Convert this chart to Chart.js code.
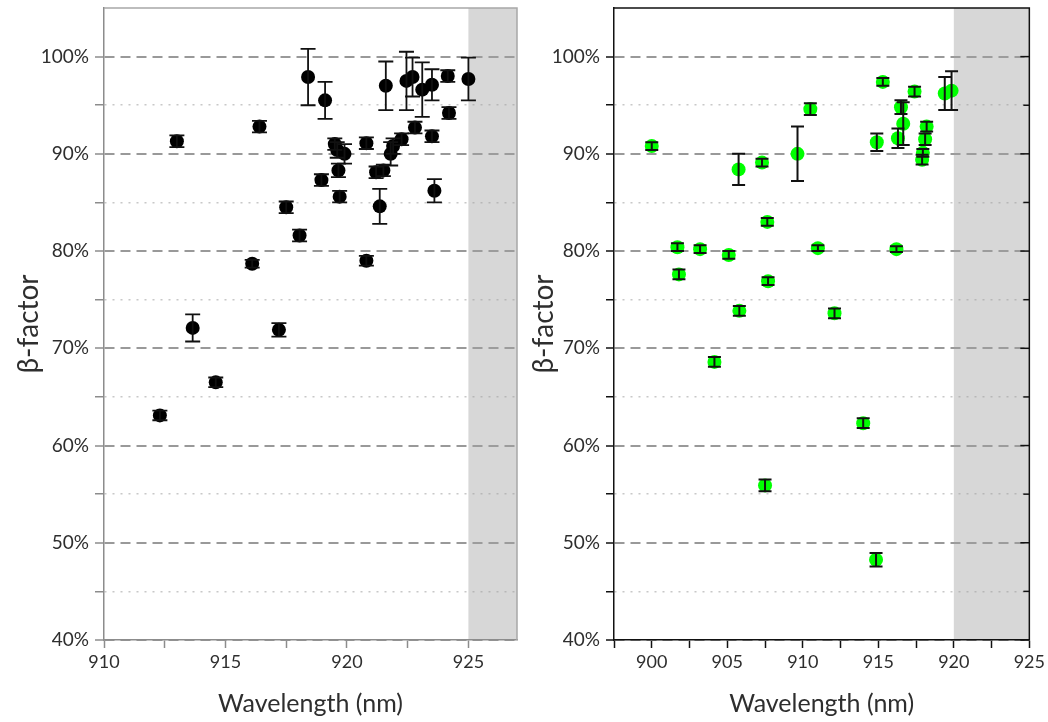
<!DOCTYPE html>
<html>
<head>
<meta charset="utf-8">
<script src="https://cdn.jsdelivr.net/npm/chart.js@4/dist/chart.umd.min.js"></script>
<style>
  html, body { margin: 0; padding: 0; background: #fff; }
  #wrap { position: relative; width: 1048px; height: 722px; }
  .box { position: absolute; top: 0; width: 524px; height: 722px; }
</style>
</head>
<body>
<div id="wrap">
  <div class="box" style="left:0"><canvas id="left" width="524" height="722"></canvas></div>
  <div class="box" style="left:524px"><canvas id="right" width="524" height="722"></canvas></div>
</div>
<script>
// left panel
const leftWavelength = [912.3, 913.0, 913.65, 914.6, 916.1, 916.4, 917.2, 917.5, 918.05, 918.4,
  918.95, 919.1, 919.5, 919.6, 919.65, 919.7, 919.9, 920.8, 920.8, 921.2,
  921.35, 921.5, 921.6, 921.8, 921.9, 922.25, 922.45, 922.7, 922.8, 923.1,
  923.5, 923.5, 923.6, 924.15, 924.2, 925.0];
const leftBeta = [63.1, 91.3, 72.1, 66.5, 78.7, 92.8, 71.9, 84.5, 81.6, 97.9,
  87.3, 95.5, 91.0, 90.4, 88.3, 85.6, 90.0, 91.1, 79.0, 88.1,
  84.6, 88.3, 97.0, 90.0, 90.8, 91.5, 97.5, 97.9, 92.7, 96.6,
  97.1, 91.8, 86.2, 98.0, 94.2, 97.7];
const leftErr = [0.5, 0.6, 1.4, 0.5, 0.4, 0.6, 0.7, 0.6, 0.6, 2.9,
  0.6, 1.9, 0.6, 0.8, 0.7, 0.6, 1.0, 0.6, 0.5, 0.6,
  1.8, 0.6, 2.5, 1.2, 0.8, 0.6, 3.0, 2.0, 0.6, 2.8,
  1.6, 0.6, 1.2, 0.6, 0.6, 2.2];

// right panel
const rightWavelength = [900.0, 901.7, 901.8, 903.2, 904.15, 905.1, 905.75, 905.8, 907.3, 907.5,
  907.65, 907.7, 909.65, 910.5, 911.0, 912.1, 914.0, 914.85, 914.9, 915.3,
  916.2, 916.3, 916.5, 916.65, 917.4, 917.9, 917.95, 918.1, 918.2, 919.4, 919.85];
const rightBeta = [90.8, 80.4, 77.6, 80.2, 68.6, 79.6, 88.4, 73.85, 89.1, 55.9,
  83.0, 76.9, 90.0, 94.6, 80.3, 73.6, 62.3, 48.25, 91.2, 97.4,
  80.2, 91.6, 94.8, 93.1, 96.4, 89.4, 90.1, 91.5, 92.8, 96.2, 96.5];
const rightErr = [0.4, 0.4, 0.5, 0.4, 0.5, 0.4, 1.6, 0.5, 0.4, 0.6,
  0.4, 0.4, 2.8, 0.6, 0.3, 0.5, 0.5, 0.7, 0.9, 0.4,
  0.3, 1.0, 0.7, 2.2, 0.5, 0.5, 0.4, 0.6, 0.5, 1.7, 2.0];

const yTicks = [40, 50, 60, 70, 80, 90, 100];
const leftXTicks = [910, 915, 920, 925];
const rightXTicks = [900, 905, 910, 915, 920, 925];

const FONT = "Lato, 'Open Sans', sans-serif";

const errorBars = {
  id: 'errorBars',
  afterDatasetsDraw(chart) {
    const { ctx, scales: { x, y } } = chart;
    chart.data.datasets.forEach(ds => {
      const cap = ds.capHalf;
      ctx.save();
      ctx.strokeStyle = '#111';
      ctx.lineWidth = ds.errWidth;
      ds.data.forEach((p, i) => {
        const px = x.getPixelForValue(p.x);
        const top = y.getPixelForValue(p.y + ds.yErr[i]);
        const bot = y.getPixelForValue(p.y - ds.yErr[i]);
        ctx.beginPath();
        ctx.moveTo(px, top); ctx.lineTo(px, bot);
        ctx.moveTo(px - cap, top); ctx.lineTo(px + cap, top);
        ctx.moveTo(px - cap, bot); ctx.lineTo(px + cap, bot);
        ctx.stroke();
      });
      ctx.restore();
    });
  }
};

const panelDecor = {
  id: 'panelDecor',
  beforeDatasetsDraw(chart, args, opts) {
    const { ctx, chartArea: a, scales: { x } } = chart;
    const xs = x.getPixelForValue(opts.shadeFrom);
    ctx.save();
    ctx.fillStyle = 'rgba(160,160,160,0.42)';
    ctx.fillRect(xs, a.top, a.right - xs, a.bottom - a.top - 1);
    ctx.restore();
  },
  afterDraw(chart, args, opts) {
    const { ctx, chartArea: a, scales: { y } } = chart;
    ctx.save();
    ctx.strokeStyle = opts.frameColor;
    ctx.lineWidth = 1.5;
    ctx.beginPath();
    ctx.moveTo(a.left, a.top); ctx.lineTo(a.right, a.top); ctx.lineTo(a.right, a.bottom);
    ctx.stroke();
    if (opts.mirror) {
      y.ticks.forEach(t => {
        if (t.value > 100) return;
        const py = y.getPixelForValue(t.value);
        ctx.beginPath();
        ctx.moveTo(a.right, py); ctx.lineTo(a.right - (t.value % 10 === 0 ? 9 : 6), py);
        ctx.stroke();
      });
    }
    ctx.restore();
  }
};

function makeChart(id, cfg) {
  const axisColor = cfg.axisColor;
  return new Chart(document.getElementById(id), {
    type: 'scatter',
    data: {
      datasets: [{
        data: cfg.xs.map((v, i) => ({ x: v, y: cfg.ys[i] })),
        yErr: cfg.errs,
        capHalf: cfg.capHalf,
        errWidth: cfg.errWidth,
        backgroundColor: cfg.pointColor,
        borderColor: cfg.pointColor,
        borderWidth: 0,
        pointRadius: cfg.pointRadius,
        pointHoverRadius: cfg.pointRadius
      }]
    },
    options: {
      responsive: false,
      animation: false,
      layout: { padding: { top: 8, right: cfg.padRight, left: 0, bottom: 0 } },
      plugins: {
        legend: { display: false },
        tooltip: { enabled: false },
        panelDecor: { shadeFrom: cfg.shadeFrom, frameColor: cfg.frameColor, mirror: cfg.mirror }
      },
      scales: {
        x: {
          type: 'linear',
          min: cfg.xMin,
          max: cfg.xMax,
          afterBuildTicks: s => {
            s.ticks = s.ticks.filter(t => Math.abs(t.value / 2.5 - Math.round(t.value / 2.5)) < 1e-6);
          },
          afterFit: s => { s.height = 82; },
          ticks: {
            stepSize: 2.5,
            autoSkip: false,
            maxRotation: 0,
            padding: 3,
            color: '#2e2e2e',
            font: { family: FONT, size: 18 },
            callback: v => cfg.xLabels.includes(v) ? String(v) : ''
          },
          grid: { drawOnChartArea: false, tickLength: 8, tickColor: axisColor, tickWidth: 1.5 },
          border: { color: axisColor, width: 1.5 },
          title: {
            display: true,
            text: 'Wavelength (nm)',
            color: '#2e2e2e',
            font: { family: FONT, size: 25 },
            padding: { top: 0, bottom: 3 }
          }
        },
        y: {
          min: 40,
          max: 105,
          afterFit: s => {
            s.width = cfg.yWidth;
            s.paddingTop = 0;
            s.paddingBottom = 0;
          },
          ticks: {
            stepSize: 5,
            autoSkip: false,
            padding: 6,
            color: '#2e2e2e',
            font: { family: FONT, size: 19 },
            callback: v => yTicks.includes(v) ? v + '%' : ''
          },
          grid: {
            color: c => (c.tick && c.tick.value > 100) ? 'rgba(0,0,0,0)' : (c.tick && c.tick.value % 10 === 0 ? '#999' : '#c8c8c8'),
            lineWidth: c => (c.tick && c.tick.value % 10 === 0) ? 2 : 1.5,
            tickLength: cfg.yTickLen,
            tickWidth: 1.5,
            tickColor: c => (c.tick && c.tick.value > 100) ? 'rgba(0,0,0,0)' : axisColor
          },
          border: {
            color: axisColor,
            width: 1.5,
            dash: c => c.tick ? (c.tick.value % 10 === 0 ? [10, 6] : [2, 6]) : []
          },
          title: {
            display: true,
            text: 'β-factor',
            color: '#2e2e2e',
            font: { family: FONT, size: 28 },
            padding: { top: cfg.titlePad, bottom: 0 }
          }
        }
      }
    },
    plugins: [panelDecor, errorBars]
  });
}

makeChart('left', {
  xs: leftWavelength, ys: leftBeta, errs: leftErr,
  xMin: 910, xMax: 927, xLabels: leftXTicks, shadeFrom: 925,
  pointColor: '#000', pointRadius: 7, capHalf: 7.5, errWidth: 1.8,
  axisColor: '#8c8c8c', frameColor: '#a8a8a8', mirror: false,
  yWidth: 104, padRight: 6, yTickLen: 9, titlePad: 12
});

makeChart('right', {
  xs: rightWavelength, ys: rightBeta, errs: rightErr,
  xMin: 897.5, xMax: 925, xLabels: rightXTicks, shadeFrom: 920,
  pointColor: '#00ff00', pointRadius: 7, capHalf: 6.5, errWidth: 2,
  axisColor: '#111', frameColor: '#111', mirror: true,
  yWidth: 90, padRight: 17, yTickLen: 8, titlePad: 3
});
</script>
</body>
</html>
